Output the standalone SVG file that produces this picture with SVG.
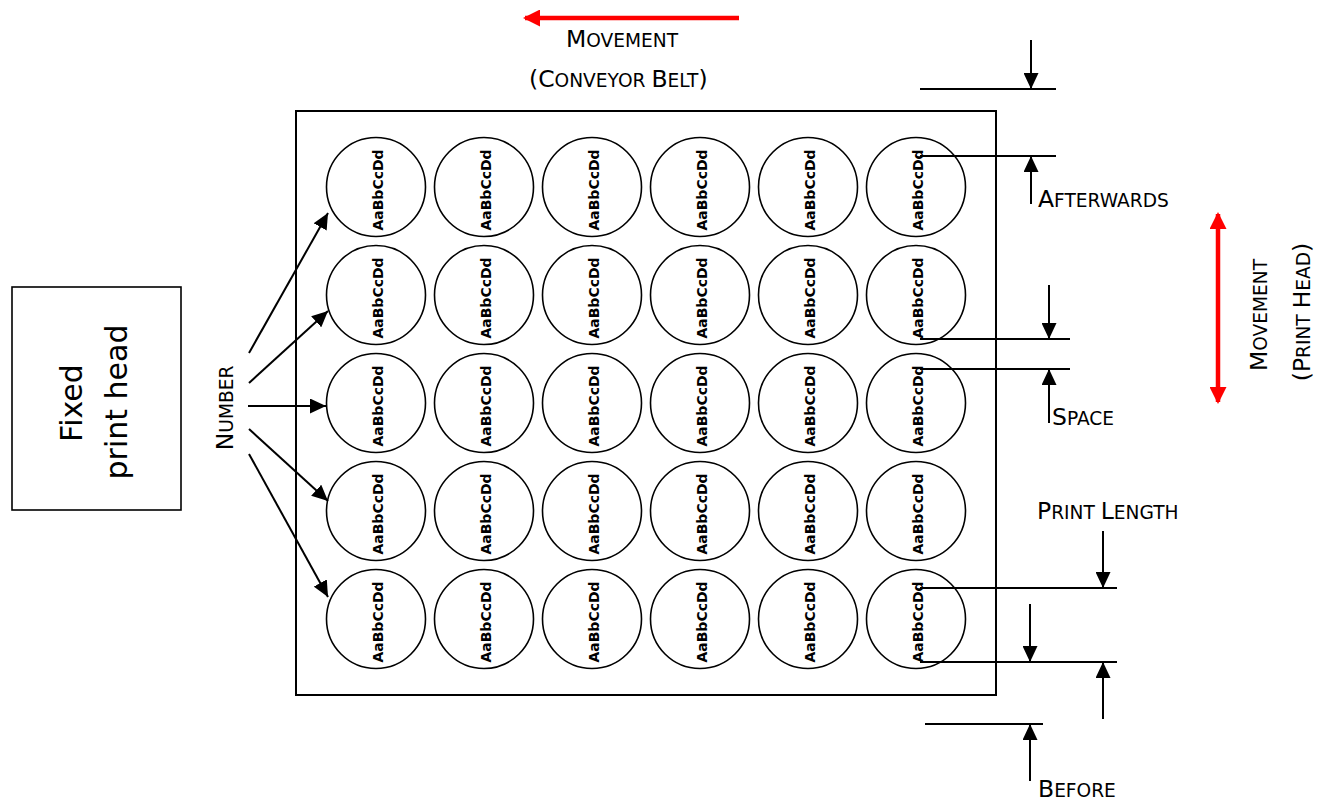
<svg xmlns="http://www.w3.org/2000/svg" width="1326" height="802" viewBox="0 0 1326 802">
<style>
.lbl{font-family:"DejaVu Sans","Liberation Sans",sans-serif;font-size:18.6px;fill:#000}
.big{font-size:23.5px}
.fph{font-family:"DejaVu Sans","Liberation Sans",sans-serif;font-size:30px;fill:#000}
.ct{font-family:"DejaVu Sans","Liberation Sans",sans-serif;font-size:14px;font-weight:bold;fill:#000}
.cir{fill:#fff;stroke:#000;stroke-width:1.6}
.ln{stroke:#000;stroke-width:2;fill:none}
.ar{stroke:#000;stroke-width:2;fill:none;marker-end:url(#ah)}
.red{stroke:#ff0000;stroke-width:4.5;fill:none}
</style>
<defs>
<marker id="ah" markerUnits="userSpaceOnUse" markerWidth="16" markerHeight="15" refX="16" refY="7.5" orient="auto">
<path d="M0,0 L16,7.5 L0,15 z" fill="#000"/>
</marker>
<marker id="rh" markerUnits="userSpaceOnUse" markerWidth="17" markerHeight="17" refX="15" refY="8.5" orient="auto">
<path d="M0,0 L17,8.5 L0,17 z" fill="#ff0000"/>
</marker>
<marker id="rhs" markerUnits="userSpaceOnUse" markerWidth="17" markerHeight="17" refX="2" refY="8.5" orient="auto">
<path d="M17,0 L0,8.5 L17,17 z" fill="#ff0000"/>
</marker>
<g id="c">
<circle class="cir" cx="0" cy="0" r="49.5"/>
<text class="ct" transform="translate(7,3) rotate(-90)" text-anchor="middle">AaBbCcDd</text>
</g>
</defs>
<rect width="1326" height="802" fill="#fff"/>

<g id="printhead">
<rect x="12" y="287" width="169" height="223" fill="#fff" stroke="#000" stroke-width="1.6"/>
<text class="fph" transform="translate(82,403) rotate(-90)" text-anchor="middle">Fixed</text>
<text class="fph" transform="translate(127,402) rotate(-90)" text-anchor="middle">print head</text>
</g>

<g id="belt">
<rect x="296" y="111" width="700" height="584" fill="none" stroke="#000" stroke-width="2"/>
</g>

<g id="items">
<use href="#c" x="376" y="187"/><use href="#c" x="484" y="187"/><use href="#c" x="592" y="187"/><use href="#c" x="700" y="187"/><use href="#c" x="808" y="187"/><use href="#c" x="916" y="187"/>
<use href="#c" x="376" y="295"/><use href="#c" x="484" y="295"/><use href="#c" x="592" y="295"/><use href="#c" x="700" y="295"/><use href="#c" x="808" y="295"/><use href="#c" x="916" y="295"/>
<use href="#c" x="376" y="403"/><use href="#c" x="484" y="403"/><use href="#c" x="592" y="403"/><use href="#c" x="700" y="403"/><use href="#c" x="808" y="403"/><use href="#c" x="916" y="403"/>
<use href="#c" x="376" y="511"/><use href="#c" x="484" y="511"/><use href="#c" x="592" y="511"/><use href="#c" x="700" y="511"/><use href="#c" x="808" y="511"/><use href="#c" x="916" y="511"/>
<use href="#c" x="376" y="619"/><use href="#c" x="484" y="619"/><use href="#c" x="592" y="619"/><use href="#c" x="700" y="619"/><use href="#c" x="808" y="619"/><use href="#c" x="916" y="619"/>
</g>

<g id="labels">
<text class="lbl" x="566" y="47"><tspan class="big">M</tspan>OVEMENT</text>
<text class="lbl" x="529" y="87"><tspan class="big">(C</tspan>ONVEYOR <tspan class="big">B</tspan>ELT<tspan class="big">)</tspan></text>
<text class="lbl" x="1038" y="207"><tspan class="big">A</tspan>FTERWARDS</text>
<text class="lbl" x="1052" y="425"><tspan class="big">S</tspan>PACE</text>
<text class="lbl" x="1037" y="519"><tspan class="big">P</tspan>RINT <tspan class="big">L</tspan>ENGTH</text>
<text class="lbl" x="1038" y="797"><tspan class="big">B</tspan>EFORE</text>
<text class="lbl" transform="translate(233,408) rotate(-90)" text-anchor="middle"><tspan class="big">N</tspan>UMBER</text>
<text class="lbl" transform="translate(1267,315) rotate(-90)" text-anchor="middle"><tspan class="big">M</tspan>OVEMENT</text>
<text class="lbl" transform="translate(1310,312) rotate(-90)" text-anchor="middle"><tspan class="big">(P</tspan>RINT <tspan class="big">H</tspan>EAD<tspan class="big">)</tspan></text>
</g>

<g id="connectors">
<line class="red" x1="739" y1="18" x2="525" y2="18" marker-end="url(#rh)"/>
<line class="red" x1="1218" y1="214" x2="1218" y2="402" marker-start="url(#rhs)" marker-end="url(#rh)"/>

<line class="ar" x1="249" y1="353" x2="328" y2="213"/>
<line class="ar" x1="249" y1="383" x2="328" y2="311"/>
<line class="ar" x1="248" y1="406" x2="326" y2="406"/>
<line class="ar" x1="249" y1="429" x2="328" y2="501"/>
<line class="ar" x1="249" y1="454" x2="328" y2="597"/>

<line class="ln" x1="920" y1="89" x2="1056" y2="89"/>
<line class="ar" x1="1031" y1="40" x2="1031" y2="89"/>
<line class="ln" x1="920" y1="156" x2="1056" y2="156"/>
<line class="ar" x1="1031" y1="204" x2="1031" y2="156"/>

<line class="ln" x1="920" y1="339" x2="1070" y2="339"/>
<line class="ar" x1="1049" y1="285" x2="1049" y2="339"/>
<line class="ln" x1="920" y1="369" x2="1070" y2="369"/>
<line class="ar" x1="1049" y1="423" x2="1049" y2="369"/>

<line class="ln" x1="920" y1="588" x2="1117" y2="588"/>
<line class="ar" x1="1103" y1="531" x2="1103" y2="588"/>
<line class="ln" x1="920" y1="662" x2="1117" y2="662"/>
<line class="ar" x1="1030" y1="604" x2="1030" y2="662"/>
<line class="ar" x1="1103" y1="719" x2="1103" y2="662"/>
<line class="ln" x1="925" y1="724" x2="1043" y2="724"/>
<line class="ar" x1="1030" y1="781" x2="1030" y2="724"/>
</g>
</svg>
